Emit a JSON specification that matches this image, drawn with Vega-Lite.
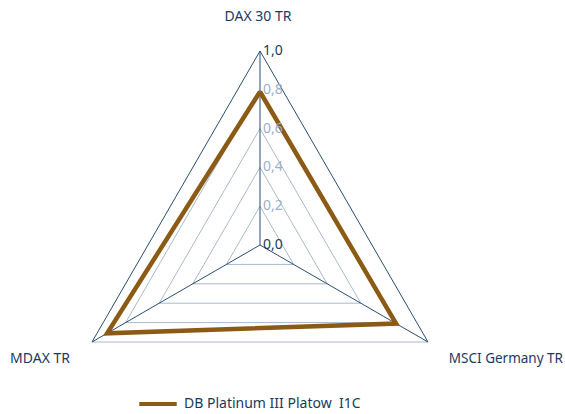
{
  "$schema": "https://vega.github.io/schema/vega-lite/v6.json",
  "width": 565,
  "height": 414,
  "autosize": "none",
  "padding": 0,
  "background": "white",
  "config": {"view": {"stroke": null}, "font": "Noto Sans"},
  "datasets": {
    "axes": [
      {"axis": "DAX 30 TR", "k": 0},
      {"axis": "MSCI Germany TR", "k": 1},
      {"axis": "MDAX TR", "k": 2}
    ],
    "fund": [
      {"series": "DB Platinum III Platow\u00a0 I1C", "axis": "DAX 30 TR", "k": 0, "value": 0.79},
      {"series": "DB Platinum III Platow\u00a0 I1C", "axis": "MSCI Germany TR", "k": 1, "value": 0.81},
      {"series": "DB Platinum III Platow\u00a0 I1C", "axis": "MDAX TR", "k": 2, "value": 0.91},
      {"series": "DB Platinum III Platow\u00a0 I1C", "axis": "DAX 30 TR", "k": 3, "value": 0.79}
    ],
    "grid": [
      {"level": 0.2, "k": 0}, {"level": 0.2, "k": 1}, {"level": 0.2, "k": 2}, {"level": 0.2, "k": 3},
      {"level": 0.4, "k": 0}, {"level": 0.4, "k": 1}, {"level": 0.4, "k": 2}, {"level": 0.4, "k": 3},
      {"level": 0.6, "k": 0}, {"level": 0.6, "k": 1}, {"level": 0.6, "k": 2}, {"level": 0.6, "k": 3},
      {"level": 0.8, "k": 0}, {"level": 0.8, "k": 1}, {"level": 0.8, "k": 2}, {"level": 0.8, "k": 3},
      {"level": 1.0, "k": 1}, {"level": 1.0, "k": 2}
    ],
    "ticks": [
      {"label": "0,0", "level": 0},
      {"label": "0,2", "level": 0.2},
      {"label": "0,4", "level": 0.4},
      {"label": "0,6", "level": 0.6},
      {"label": "0,8", "level": 0.8},
      {"label": "1,0", "level": 1.0}
    ]
  },
  "layer": [
    {
      "data": {"name": "grid"},
      "transform": [
        {"calculate": "datum.k * 2 * PI / 3", "as": "ang"},
        {"calculate": "datum.level * sin(datum.ang)", "as": "px"},
        {"calculate": "datum.level * cos(datum.ang)", "as": "py"}
      ],
      "mark": {"type": "line", "stroke": "#a9b9cf", "strokeWidth": 1},
      "encoding": {
        "x": {"field": "px", "type": "quantitative", "scale": {"domain": [-1.3402, 1.5722], "nice": false, "zero": false}, "axis": null},
        "y": {"field": "py", "type": "quantitative", "scale": {"domain": [-0.8711, 1.2629], "nice": false, "zero": false}, "axis": null},
        "detail": {"field": "level", "type": "nominal"},
        "order": {"field": "k", "type": "quantitative"}
      }
    },
    {
      "data": {"name": "axes"},
      "transform": [
        {"filter": "datum.k > 0"},
        {"calculate": "datum.k * 2 * PI / 3", "as": "ang"},
        {"calculate": "sin(datum.ang)", "as": "px"},
        {"calculate": "cos(datum.ang)", "as": "py"}
      ],
      "mark": {"type": "rule", "stroke": "#2b4d73", "strokeWidth": 1},
      "encoding": {
        "x": {"field": "px", "type": "quantitative", "scale": {"domain": [-1.3402, 1.5722], "nice": false, "zero": false}, "axis": null},
        "y": {"field": "py", "type": "quantitative", "scale": {"domain": [-0.8711, 1.2629], "nice": false, "zero": false}, "axis": null},
        "x2": {"datum": 0},
        "y2": {"datum": 1}
      }
    },
    {
      "data": {"name": "axes"},
      "transform": [
        {"calculate": "datum.k * 2 * PI / 3", "as": "ang"},
        {"calculate": "sin(datum.ang)", "as": "px"},
        {"calculate": "cos(datum.ang)", "as": "py"}
      ],
      "mark": {"type": "rule", "stroke": "#2b4d73", "strokeWidth": 1},
      "encoding": {
        "x": {"field": "px", "type": "quantitative", "scale": {"domain": [-1.3402, 1.5722], "nice": false, "zero": false}, "axis": null},
        "y": {"field": "py", "type": "quantitative", "scale": {"domain": [-0.8711, 1.2629], "nice": false, "zero": false}, "axis": null},
        "x2": {"datum": 0},
        "y2": {"datum": 0}
      }
    },
    {
      "data": {"name": "fund"},
      "transform": [
        {"calculate": "datum.k * 2 * PI / 3", "as": "ang"},
        {"calculate": "datum.value * sin(datum.ang)", "as": "px"},
        {"calculate": "datum.value * cos(datum.ang)", "as": "py"}
      ],
      "mark": {"type": "line", "strokeWidth": 4.5, "strokeJoin": "miter"},
      "encoding": {
        "x": {"field": "px", "type": "quantitative", "scale": {"domain": [-1.3402, 1.5722], "nice": false, "zero": false}, "axis": null},
        "y": {"field": "py", "type": "quantitative", "scale": {"domain": [-0.8711, 1.2629], "nice": false, "zero": false}, "axis": null},
        "order": {"field": "k", "type": "quantitative"},
        "color": {
          "field": "series", "type": "nominal",
          "scale": {"range": ["#8b5a14"]},
          "legend": {
            "orient": "none", "legendX": 137, "legendY": 383, "title": null, "padding": 0,
            "symbolType": "stroke", "symbolStrokeWidth": 4, "symbolSize": 1400, "labelLimit": 400,
            "labelFont": "Noto Sans", "labelFontSize": 14, "labelColor": "#1c3a5e", "labelOffset": 5
          }
        }
      }
    },
    {
      "data": {"name": "ticks"},
      "mark": {"type": "text", "align": "left", "baseline": "alphabetic", "dx": 3, "dy": 4, "fontSize": 14, "font": "Noto Sans"},
      "encoding": {
        "x": {"datum": 0, "type": "quantitative", "scale": {"domain": [-1.3402, 1.5722], "nice": false, "zero": false}, "axis": null},
        "y": {"field": "level", "type": "quantitative", "scale": {"domain": [-0.8711, 1.2629], "nice": false, "zero": false}, "axis": null},
        "text": {"field": "label"},
        "color": {"condition": {"test": "datum.level == 0 || datum.level == 1", "value": "#1c3a5e"}, "value": "#9fb0c8"}
      }
    },
    {
      "data": {"name": "axes"},
      "transform": [{"filter": "datum.k == 0"}],
      "mark": {"type": "text", "align": "center", "baseline": "alphabetic", "dx": -2, "dy": -30, "fontSize": 14, "font": "Noto Sans", "color": "#1c3a5e"},
      "encoding": {
        "x": {"datum": 0, "type": "quantitative", "scale": {"domain": [-1.3402, 1.5722], "nice": false, "zero": false}, "axis": null},
        "y": {"datum": 1, "type": "quantitative", "scale": {"domain": [-0.8711, 1.2629], "nice": false, "zero": false}, "axis": null},
        "text": {"field": "axis"}
      }
    },
    {
      "data": {"name": "axes"},
      "transform": [{"filter": "datum.k == 1"}],
      "mark": {"type": "text", "align": "right", "baseline": "alphabetic", "dx": 135, "dy": 21, "fontSize": 13.5, "font": "Noto Sans", "color": "#1c3a5e"},
      "encoding": {
        "x": {"datum": 0.866, "type": "quantitative", "scale": {"domain": [-1.3402, 1.5722], "nice": false, "zero": false}, "axis": null},
        "y": {"datum": -0.5, "type": "quantitative", "scale": {"domain": [-0.8711, 1.2629], "nice": false, "zero": false}, "axis": null},
        "text": {"field": "axis"}
      }
    },
    {
      "data": {"name": "axes"},
      "transform": [{"filter": "datum.k == 2"}],
      "mark": {"type": "text", "align": "right", "baseline": "alphabetic", "dx": -22, "dy": 21, "fontSize": 14, "font": "Noto Sans", "color": "#1c3a5e"},
      "encoding": {
        "x": {"datum": -0.866, "type": "quantitative", "scale": {"domain": [-1.3402, 1.5722], "nice": false, "zero": false}, "axis": null},
        "y": {"datum": -0.5, "type": "quantitative", "scale": {"domain": [-0.8711, 1.2629], "nice": false, "zero": false}, "axis": null},
        "text": {"field": "axis"}
      }
    }
  ]
}
